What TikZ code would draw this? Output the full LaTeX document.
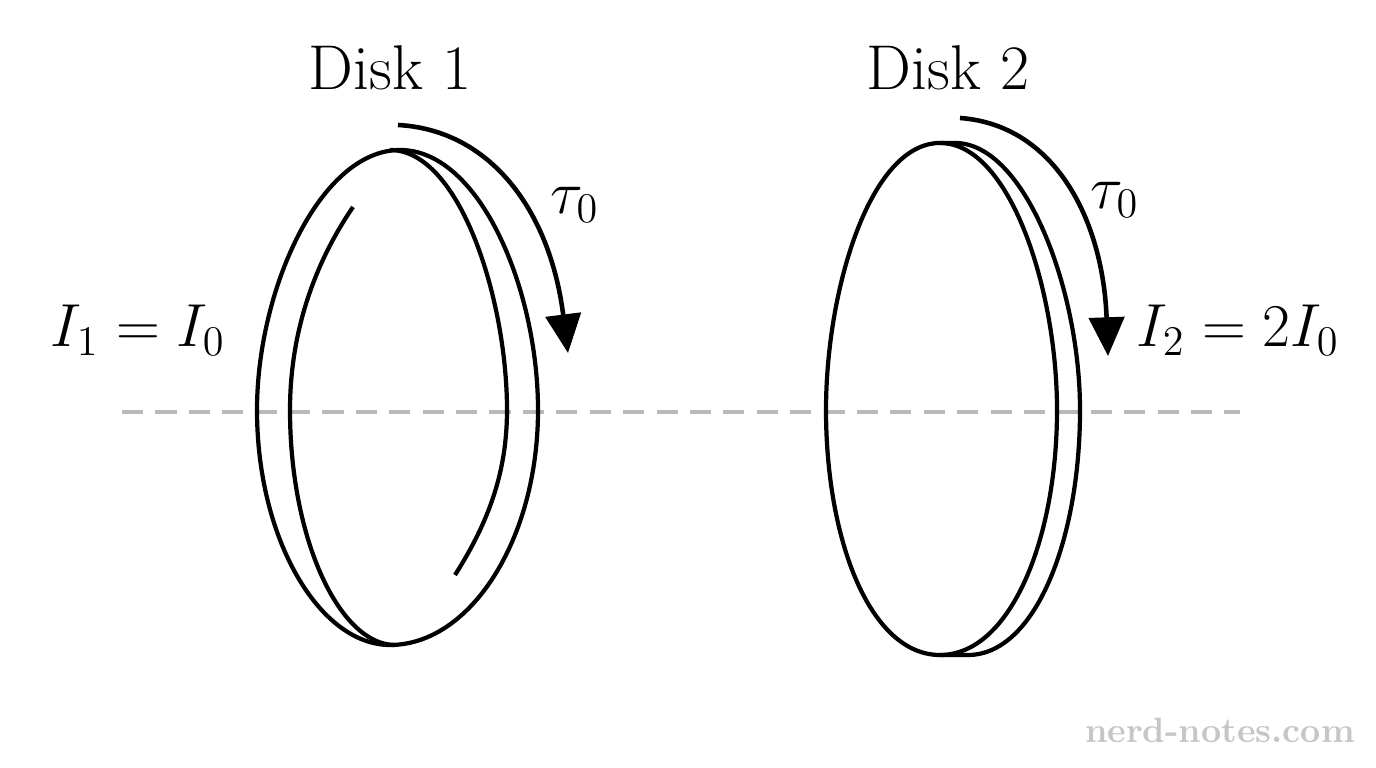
\documentclass[tikz,border=0pt]{standalone}
\usetikzlibrary{arrows.meta}
\begin{document}
\begin{tikzpicture}[x=0.01cm,y=-0.01cm,
  rim/.style={line width=1.2pt,line join=round},
  torque/.style={line width=1.3pt,-{Triangle[length=11pt,width=10pt]}},
  lbl/.style={font=\fontsize{18}{21}\selectfont,inner sep=0pt}]
\useasboundingbox (0,0) rectangle (1376,768);
% axis
\coordinate (axL) at (122,412); \coordinate (axR) at (1240,412);
\draw[gray!55,line width=1.1pt,dash pattern=on 6pt off 3.5pt] (axL) -- (axR);
% Disk 1
\draw[rim] (400,150) .. controls (320,150) and (257,290) .. (257,410)
  .. controls (257,540) and (320,645) .. (390,645)
  .. controls (470,645) and (538,540) .. (538,410)
  .. controls (538,290) and (480,150) .. (400,150);
\draw[rim] (455,575) .. controls (490,520) and (507,470) .. (507,410)
  .. controls (507,300) and (460,150) .. (390,150);
\draw[rim] (353,207) .. controls (310,270) and (290,340) .. (290,410)
  .. controls (290,540) and (340,645) .. (395,645);
% Disk 2
\draw[rim] (940,143) .. controls (870,143) and (826,290) .. (826,410)
  .. controls (826,540) and (870,655) .. (940,655)
  .. controls (1010,655) and (1057,540) .. (1057,410)
  .. controls (1057,290) and (1010,143) .. (940,143);
\draw[rim] (940,143) -- (955,143) .. controls (1025,143) and (1080,290) .. (1080,410)
  .. controls (1080,540) and (1035,655) .. (968,655) -- (940,655);
% torques
\coordinate (t1s) at (398,125); \coordinate (t1e) at (568,353);
\draw[torque] (t1s) .. controls (490,130) and (550,210) .. (t1e);
\coordinate (t2s) at (960,118); \coordinate (t2e) at (1108,356);
\draw[torque] (t2s) .. controls (1055,125) and (1103,220) .. (t2e);
% labels
\node[lbl] (d1) at (390,68) {Disk 1};
\node[lbl] (d2) at (948,68) {Disk 2};
\node[lbl] (ta) at (575,205) {$\tau_0$};
\node[lbl] (tb) at (1115,200) {$\tau_0$};
\node[lbl] (i1) at (138,330) {$I_1 = I_0$};
\node[lbl] (i2) at (1238,330) {$I_2 = 2I_0$};
\node[font=\bfseries\fontsize{10}{12}\selectfont,text=gray!45,inner sep=0pt] (wm) at (1220,730) {nerd-notes.com};
\end{tikzpicture}
\end{document}
